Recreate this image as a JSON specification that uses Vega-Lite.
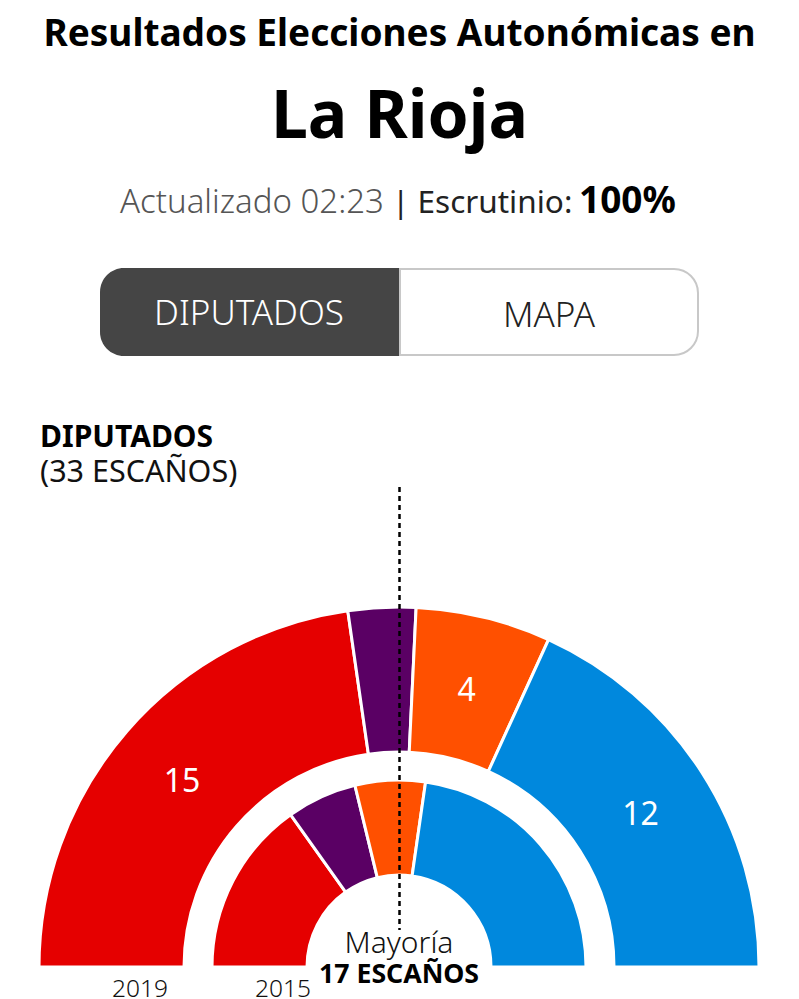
{
  "$schema": "https://vega.github.io/schema/vega-lite/v6.json",
  "width": 799,
  "height": 819,
  "padding": {"left": 0, "right": 0, "top": 180, "bottom": 0},
  "autosize": {"type": "none"},
  "background": "#ffffff",
  "config": {"view": {"stroke": null}, "text": {"font": "Noto Sans"}},
  "title": {
    "text": "Resultados Elecciones Autonómicas en",
    "subtitle": "La Rioja",
    "anchor": "middle",
    "frame": "group",
    "font": "Noto Sans",
    "fontSize": 37,
    "fontWeight": "bold",
    "color": "#000000",
    "subtitleFont": "Noto Sans",
    "subtitleFontSize": 66,
    "subtitleFontWeight": "bold",
    "subtitleColor": "#000000",
    "subtitlePadding": 32,
    "offset": 28
  },
  "datasets": {
    "escanos": [
      {"anio": 2019, "partido": "PSOE", "orden": 1, "escanos": 15},
      {"anio": 2019, "partido": "Podemos", "orden": 2, "escanos": 2},
      {"anio": 2019, "partido": "Ciudadanos", "orden": 3, "escanos": 4},
      {"anio": 2019, "partido": "PP", "orden": 4, "escanos": 12},
      {"anio": 2015, "partido": "PSOE", "orden": 1, "escanos": 10},
      {"anio": 2015, "partido": "Podemos", "orden": 2, "escanos": 4},
      {"anio": 2015, "partido": "Ciudadanos", "orden": 3, "escanos": 4},
      {"anio": 2015, "partido": "PP", "orden": 4, "escanos": 15}
    ]
  },
  "data": {"name": "escanos"},
  "transform": [
    {"stack": "escanos", "groupby": ["anio"], "sort": [{"field": "orden"}], "as": ["desde", "hasta"]},
    {"calculate": "(datum.desde + datum.hasta) / 2", "as": "medio"}
  ],
  "encoding": {
    "x": {"datum": 0, "type": "quantitative", "scale": {"domain": [-399, 400]}, "axis": null},
    "y": {"datum": -2, "type": "quantitative", "scale": {"domain": [-34, 785]}, "axis": null}
  },
  "layer": [
    {
      "transform": [{"filter": "datum.anio == 2019"}],
      "mark": {"type": "arc", "radius": 360, "radius2": 215, "stroke": "#ffffff", "strokeWidth": 3},
      "encoding": {
        "theta": {"field": "desde", "type": "quantitative", "scale": {"domain": [0, 33], "range": [-1.5708, 1.5708]}},
        "theta2": {"field": "hasta"},
        "color": {
          "field": "partido",
          "type": "nominal",
          "legend": null,
          "scale": {
            "domain": ["PSOE", "Podemos", "Ciudadanos", "PP"],
            "range": ["#e50000", "#5a0064", "#ff5000", "#0088dd"]
          }
        }
      }
    },
    {
      "transform": [{"filter": "datum.anio == 2015"}],
      "mark": {"type": "arc", "radius": 187, "radius2": 92, "stroke": "#ffffff", "strokeWidth": 3},
      "encoding": {
        "theta": {"field": "desde", "type": "quantitative", "scale": {"domain": [0, 33], "range": [-1.5708, 1.5708]}},
        "theta2": {"field": "hasta"},
        "color": {"field": "partido", "type": "nominal", "legend": null}
      }
    },
    {
      "transform": [{"filter": "datum.anio == 2019 && datum.escanos > 2"}],
      "mark": {"type": "text", "radius": 287, "fontSize": 32, "color": "#ffffff", "baseline": "middle", "dy": 3},
      "encoding": {
        "theta": {"field": "medio", "type": "quantitative", "scale": {"domain": [0, 33], "range": [-1.5708, 1.5708]}},
        "text": {"field": "escanos", "type": "quantitative"}
      }
    },
    {
      "data": {"values": [{"nombre": "Mayoría"}]},
      "transform": [],
      "mark": {"type": "rule", "color": "#000000", "strokeWidth": 2.5, "strokeDash": [5, 4]},
      "encoding": {
        "x": {"datum": 0.5},
        "y": {"datum": 478},
        "y2": {"datum": 35}
      }
    },
    {
      "data": {"values": [{"opcion": "DIPUTADOS"}]},
      "transform": [],
      "mark": {"type": "rect", "color": "#454545", "cornerRadiusTopLeft": 24, "cornerRadiusBottomLeft": 24},
      "encoding": {
        "x": {"datum": -299},
        "x2": {"datum": 1},
        "y": {"datum": 697},
        "y2": {"datum": 609}
      }
    },
    {
      "data": {"values": [{"opcion": "MAPA"}]},
      "transform": [],
      "mark": {"type": "rect", "color": "#ffffff", "stroke": "#c8c8c8", "strokeWidth": 2, "cornerRadiusTopRight": 24, "cornerRadiusBottomRight": 24},
      "encoding": {
        "x": {"datum": 1},
        "x2": {"datum": 299},
        "y": {"datum": 696},
        "y2": {"datum": 610}
      }
    },
    {
      "data": {"values": [{"texto": "DIPUTADOS"}]},
      "transform": [],
      "mark": {"type": "text", "fontSize": 35, "color": "#ffffff", "fontWeight": 300, "baseline": "alphabetic"},
      "encoding": {"x": {"datum": -150}, "y": {"datum": 640}, "text": {"field": "texto"}}
    },
    {
      "data": {"values": [{"texto": "MAPA"}]},
      "transform": [],
      "mark": {"type": "text", "fontSize": 35, "color": "#222222", "fontWeight": 300, "baseline": "alphabetic"},
      "encoding": {"x": {"datum": 150}, "y": {"datum": 638}, "text": {"field": "texto"}}
    },
    {
      "data": {"values": [{"texto": "Actualizado 02:23"}]},
      "transform": [],
      "mark": {"type": "text", "fontSize": 33, "color": "#555555", "fontWeight": 300, "align": "left", "baseline": "alphabetic"},
      "encoding": {"x": {"datum": -279}, "y": {"datum": 752}, "text": {"field": "texto"}}
    },
    {
      "data": {"values": [{"texto": "| Escrutinio:"}]},
      "transform": [],
      "mark": {"type": "text", "fontSize": 31.5, "color": "#222222", "align": "left", "baseline": "alphabetic"},
      "encoding": {"x": {"datum": -7}, "y": {"datum": 752}, "text": {"field": "texto"}}
    },
    {
      "data": {"values": [{"texto": "100%"}]},
      "transform": [],
      "mark": {"type": "text", "fontSize": 37, "color": "#000000", "fontWeight": "bold", "align": "left", "baseline": "alphabetic"},
      "encoding": {"x": {"datum": 180}, "y": {"datum": 752}, "text": {"field": "texto"}}
    },
    {
      "data": {"values": [{"texto": "DIPUTADOS"}]},
      "transform": [],
      "mark": {"type": "text", "fontSize": 30, "color": "#000000", "fontWeight": "bold", "align": "left", "baseline": "alphabetic"},
      "encoding": {"x": {"datum": -359}, "y": {"datum": 518}, "text": {"field": "texto"}}
    },
    {
      "data": {"values": [{"texto": "(33 ESCAÑOS)"}]},
      "transform": [],
      "mark": {"type": "text", "fontSize": 30.5, "color": "#111111", "align": "left", "baseline": "alphabetic"},
      "encoding": {"x": {"datum": -359}, "y": {"datum": 483}, "text": {"field": "texto"}}
    },
    {
      "data": {"values": [{"texto": "Mayoría"}]},
      "transform": [],
      "mark": {"type": "text", "fontSize": 30, "color": "#111111", "fontWeight": 300, "baseline": "alphabetic"},
      "encoding": {"x": {"datum": 0}, "y": {"datum": 12}, "text": {"field": "texto"}}
    },
    {
      "data": {"values": [{"texto": "17 ESCAÑOS"}]},
      "transform": [],
      "mark": {"type": "text", "fontSize": 26.7, "color": "#000000", "fontWeight": "bold", "baseline": "alphabetic"},
      "encoding": {"x": {"datum": 0}, "y": {"datum": -17.5}, "text": {"field": "texto"}}
    },
    {
      "data": {"values": [{"texto": "2019"}]},
      "transform": [],
      "mark": {"type": "text", "fontSize": 24.5, "color": "#111111", "fontWeight": 300, "baseline": "alphabetic"},
      "encoding": {"x": {"datum": -259}, "y": {"datum": -32}, "text": {"field": "texto"}}
    },
    {
      "data": {"values": [{"texto": "2015"}]},
      "transform": [],
      "mark": {"type": "text", "fontSize": 24.5, "color": "#111111", "fontWeight": 300, "baseline": "alphabetic"},
      "encoding": {"x": {"datum": -116}, "y": {"datum": -32}, "text": {"field": "texto"}}
    }
  ]
}
